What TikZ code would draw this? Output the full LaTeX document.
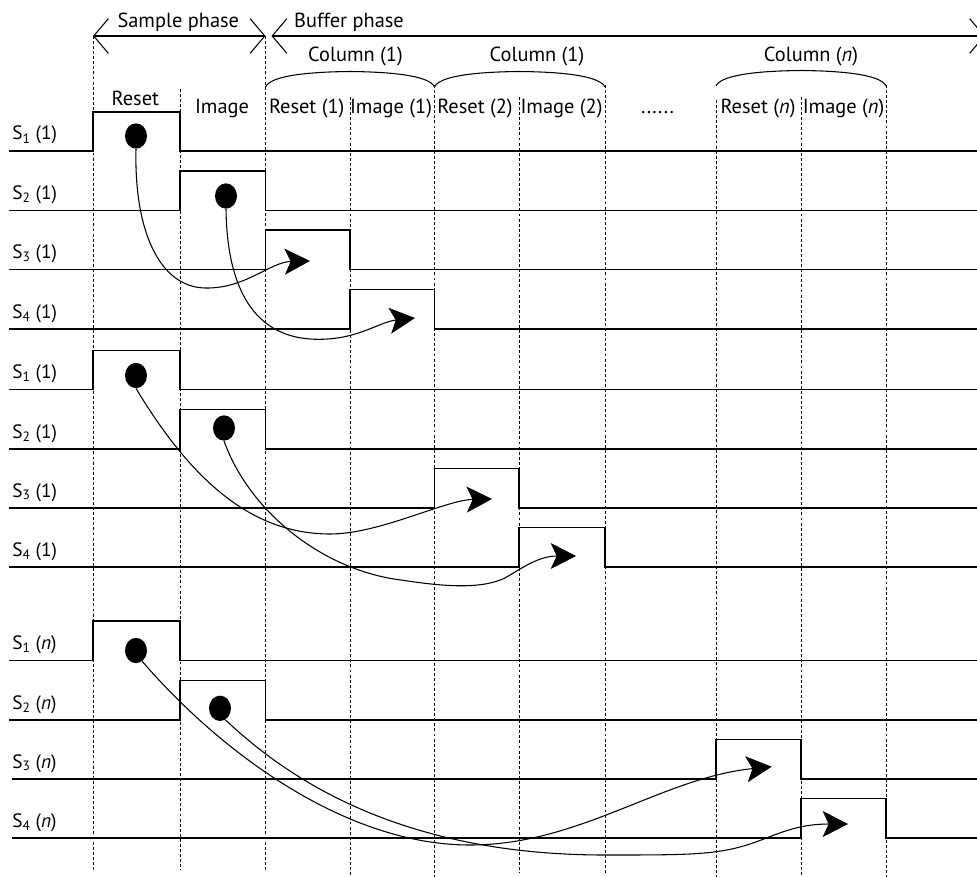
\documentclass[tikz,border=0pt]{standalone}
\usepackage{fontspec}
\setmainfont{PT Sans}
\usetikzlibrary{arrows.meta,shapes.geometric}
\begin{document}
\begin{tikzpicture}[x=0.75pt,y=-0.75pt,
  signal/.style={line width=1pt, line join=miter},
  gridline/.style={line width=0.75pt, dash pattern=on 2.2pt off 1.6pt},
  dot/.style={ellipse, fill=black, draw=none, inner sep=0pt,
              minimum width=16.5pt, minimum height=19pt},
  flow/.style={line width=0.8pt, -{Stealth[length=19pt,width=19.5pt,inset=4.5pt]}},
  span/.style={line width=0.8pt,
               {Straight Barb[length=11pt,width=26pt]}-{Straight Barb[length=11pt,width=26pt]}},
  brace/.style={line width=0.8pt},
  lbl/.style={anchor=base, inner sep=0pt, font=\fontsize{15.3}{18}\selectfont},
  rowlbl/.style={anchor=base west, inner sep=0pt, font=\fontsize{14.5}{17}\selectfont}
]
\useasboundingbox (0,0) rectangle (977,877);

% time grid
\foreach \x/\a/\b in {93/36/870, 180/89/870, 265.5/36/870, 350/97/877, 434.5/85/877,
                      519/97/873, 605/85/873, 716/100/877, 801/97/877, 886/85/877}
  \draw[gridline] (\x,\a) -- (\x,\b);

% phase spans
\draw[span] (93,36) -- (265.5,36);
\draw[span] (271.5,36) -- (985,36);
\node[lbl] (sp) at (178.3,27.3) {Sample phase};
\node[lbl] (bp) at (349,27.3) {Buffer phase};

% column braces
\draw[brace] (265.5,87) .. controls (270,77) and (300,72) .. (350,71.5)
             .. controls (400,72) and (430,77) .. (434.5,87);
\draw[brace] (434.5,87) .. controls (439,77) and (469,72) .. (519.5,71.5)
             .. controls (570,72) and (600,77) .. (605,87);
\draw[brace] (716,86) .. controls (720.5,76) and (751,71) .. (801,70.5)
             .. controls (851,71) and (881.5,76) .. (886,86);
\node[lbl] (c1) at (355.5,61.7) {Column (1)};
\node[lbl] (c2) at (537,61.7) {Column (1)};
\node[lbl] (cn) at (811,61.7) {Column (\textit{n})};

% slot headings
\node[lbl] (h0) at (135.4,106) {Reset};
\node[lbl] (h1) at (222,114) {Image};
\node[lbl] (h2) at (306.7,114) {Reset (1)};
\node[lbl] (h3) at (391,114) {Image (1)};
\node[lbl] (h4) at (475,114) {Reset (2)};
\node[lbl] (h5) at (561.5,114) {Image (2)};
\node[lbl] (h6) at (657.5,114) {......};
\node[lbl] (h7) at (758,114) {Reset (\textit{n})};
\node[lbl] (h8) at (843.5,114) {Image (\textit{n})};

% signal rows, first column
\draw[signal] (9,151) -- (93,151) -- (93,112) -- (180,112) -- (180,151) -- (977,151);
\draw[signal] (9,210.5) -- (180,210.5) -- (180,171) -- (265.5,171) -- (265.5,210.5) -- (977,210.5);
\draw[signal] (9,269.5) -- (265.5,269.5) -- (265.5,230) -- (350,230) -- (350,269.5) -- (977,269.5);
\draw[signal] (9,329) -- (350,329) -- (350,289.5) -- (434.5,289.5) -- (434.5,329) -- (977,329);
\node[rowlbl] (r1) at (12,140) {S\textsubscript{1} (1)};
\node[rowlbl] (r2) at (12,199.5) {S\textsubscript{2} (1)};
\node[rowlbl] (r3) at (12,258.5) {S\textsubscript{3} (1)};
\node[rowlbl] (r4) at (12,318) {S\textsubscript{4} (1)};

% signal rows, second column
\draw[signal] (9,389.5) -- (93,389.5) -- (93,350.5) -- (180,350.5) -- (180,389.5) -- (977,389.5);
\draw[signal] (9,449) -- (180,449) -- (180,409.5) -- (265.5,409.5) -- (265.5,449) -- (977,449);
\draw[signal] (9,508) -- (434.5,508) -- (434.5,468.5) -- (519,468.5) -- (519,508) -- (977,508);
\draw[signal] (9,567) -- (519,567) -- (519,527.5) -- (605,527.5) -- (605,567) -- (977,567);
\node[rowlbl] (r5) at (12,378.5) {S\textsubscript{1} (1)};
\node[rowlbl] (r6) at (12,438) {S\textsubscript{2} (1)};
\node[rowlbl] (r7) at (12,497) {S\textsubscript{3} (1)};
\node[rowlbl] (r8) at (12,556) {S\textsubscript{4} (1)};

% signal rows, column n
\draw[signal] (9,660.5) -- (93,660.5) -- (93,621) -- (180,621) -- (180,660.5) -- (977,660.5);
\draw[signal] (9,720) -- (180,720) -- (180,680.5) -- (265.5,680.5) -- (265.5,720) -- (977,720);
\draw[signal] (12,779) -- (716,779) -- (716,739.5) -- (801,739.5) -- (801,779) -- (977,779);
\draw[signal] (12,838) -- (801,838) -- (801,798.5) -- (886,798.5) -- (886,838) -- (977,838);
\node[rowlbl] (r9) at (12,649.5) {S\textsubscript{1} (\textit{n})};
\node[rowlbl] (r10) at (12,709) {S\textsubscript{2} (\textit{n})};
\node[rowlbl] (r11) at (12,768) {S\textsubscript{3} (\textit{n})};
\node[rowlbl] (r12) at (12,827) {S\textsubscript{4} (\textit{n})};

% sampled values
\node[dot] (d1a) at (136,136) {};
\node[dot] (d1b) at (226,196) {};
\node[dot] (d2a) at (136,375.5) {};
\node[dot] (d2b) at (224,428) {};
\node[dot] (d3a) at (136,650.5) {};
\node[dot] (d3b) at (220,708.3) {};

% transfer targets
\coordinate (t1a) at (310,261);
\coordinate (t1b) at (415,318);
\coordinate (t2a) at (492,499);
\coordinate (t2b) at (576,556);
\coordinate (t3a) at (771.7,766.7);
\coordinate (t3b) at (848,824);

% transfers
\draw[flow] (d1a.south) .. controls (134,232) and (160,287) .. (205,288)
            .. controls (245,289) and (270,262) .. (t1a);
\draw[flow] (d1b.south) .. controls (227,290) and (255,335) .. (310,339)
            .. controls (355,342) and (378,322) .. (t1b);
\draw[flow] (d2a.south) .. controls (190,478) and (250,534) .. (330,534)
            .. controls (380,534) and (445,500) .. (t2a);
\draw[flow] (d2b.south) .. controls (248.5,510) and (321,570) .. (401,580)
            .. controls (440,586) and (480,590) .. (505,578)
            .. controls (525,566) and (540,556) .. (t2b);
\draw[flow] (d3a.-60) .. controls (213.5,744.6) and (340,845) .. (470,845)
            .. controls (580,845) and (661.7,777.7) .. (t3a);
\draw[flow] (d3b.-65) .. controls (312.6,802.8) and (435,855) .. (605,855)
            .. controls (680,855) and (710,855) .. (740,847)
            .. controls (770,839) and (790,824) .. (t3b);
\end{tikzpicture}
\end{document}
